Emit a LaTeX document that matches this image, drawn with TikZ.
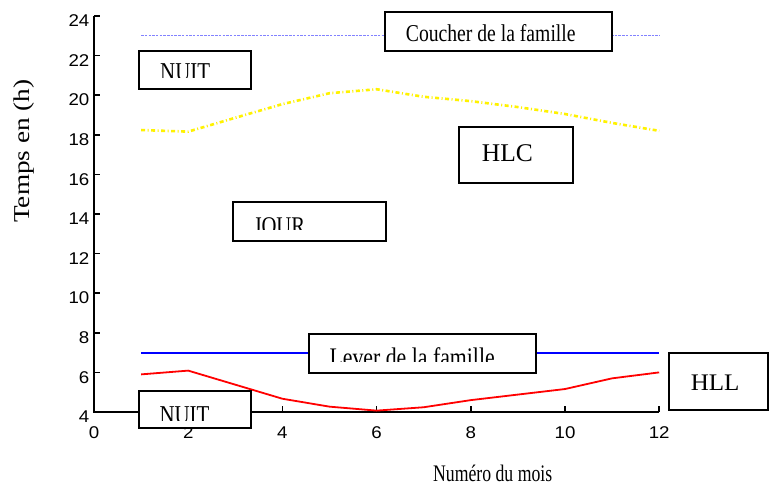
\documentclass[tikz,border=0pt]{standalone}
\usepackage{fontspec}
\setmainfont{Liberation Serif}
\newfontfamily\ticksf{Liberation Sans}
\usepackage{graphicx}

\newcommand\mytxt[3]{\scalebox{1}[#2]{\fontsize{#1}{#1}\selectfont #3}}
\newcommand\mytick[1]{\scalebox{1.1}[1]{\fontsize{17}{17}\ticksf #1}}
\definecolor{lightblueline}{RGB}{130,130,255}

\begin{document}
\begin{tikzpicture}[x=1pt,y=-1pt,
  box/.style={draw=black, line width=1.8pt, fill=white, inner sep=0pt, outer sep=0pt, anchor=north west},
  lbl/.style={inner sep=0pt, anchor=base west},
  axisline/.style={line width=1.6pt, black},
  ticklbl/.style={inner sep=0pt},
  hll/.style={red, line width=1.8pt},
  hlc/.style={yellow, line width=2.6pt, dash pattern=on 4pt off 2.5pt on 1pt off 2.5pt},
  coucher/.style={lightblueline, line width=1.3pt, dash pattern=on 2.5pt off 1.2pt},
  lever/.style={blue, line width=1.8pt}]

\clip (0,0) rectangle (769,487);
\fill[white] (0,0) rectangle (769,487);

% axes
\coordinate (o) at (94,412);
\coordinate (ytop) at (94,15.7);
\coordinate (xend) at (659.2,412);
\draw[axisline] (ytop) -- (o) -- (xend);

\foreach \v in {4,6,...,24} {
  \pgfmathsetmacro\yy{412-19.8*(\v-4)}
  \draw[axisline] (94,\yy) -- (100,\yy);
  \node[ticklbl, anchor=east] (yl\v) at (89.5,\yy+4.8) {\mytick{\v}};
}
\foreach \m in {0,2,...,12} {
  \pgfmathsetmacro\xx{94+47.1*\m}
  \draw[axisline] (\xx,412) -- (\xx,406);
  \node[ticklbl] (xl\m) at (\xx,432.5) {\mytick{\m}};
}

% data
\begin{scope}[shift={(94,412)}, x=47.1pt, y=19.8pt]
  \coordinate (c1) at (1,19); \coordinate (c12) at (12,19);
  \coordinate (l1) at (1,3); \coordinate (l12) at (12,3);
  \draw[coucher] (c1) -- (c12);
  \draw[lever] (l1) -- (l12);
  \draw[hlc] plot coordinates {(1,14.24) (2,14.16) (3,14.86) (4,15.55) (5,16.1) (6,16.3) (7,15.92) (8,15.7) (9,15.4) (10,15.05) (11,14.6) (12,14.2)};
  \draw[hll, line join=round] plot coordinates {(1,1.90) (2,2.09) (3,1.38) (4,0.67) (5,0.27) (6,0.07) (7,0.24) (8,0.60) (9,0.88) (10,1.16) (11,1.70) (12,2.0)};
\end{scope}

% boxes and texts
\node[box, minimum width=226.7pt, minimum height=38.7pt] (bcoucher) at (385,12.3) {};
\node[lbl] (tcoucher) at (405.7,41.7) {\mytxt{19.65}{1.23}{Coucher de la famille}};

\node[box, minimum width=112pt, minimum height=38pt] (bnuit1) at (139,50.7) {};
\begin{scope}
  \clip (150,50) rectangle (240,77.3);
  \node[lbl] (tnuit1) at (160,80.3) {\mytxt{20.9}{1.23}{NUIT}};
\end{scope}

\node[box, minimum width=114pt, minimum height=56pt] (bhlc) at (459,126.7) {};
\node[lbl] (thlc) at (481.7,161.7) {\mytxt{25.5}{1}{HLC}};

\node[box, minimum width=153pt, minimum height=38.4pt] (bjour) at (232.7,202.3) {};
\begin{scope}
  \clip (245,205) rectangle (330,229.3);
  \node[lbl] (tjour) at (253.3,234.2) {\mytxt{20.7}{1.23}{JOUR}};
\end{scope}

\node[box, minimum width=226.4pt, minimum height=38.4pt] (blever) at (309.3,334.3) {};
\begin{scope}
  \clip (320,337) rectangle (530,361.7);
  \node[lbl] (tlever) at (329.3,366) {\mytxt{21.8}{1.23}{Lever de la famille}};
\end{scope}

\node[box, minimum width=111.7pt, minimum height=37.6pt] (bnuit2) at (139.3,390.7) {};
\begin{scope}
  \clip (150,393) rectangle (240,420);
  \node[lbl] (tnuit2) at (159.3,423) {\mytxt{20.9}{1.23}{NUIT}};
\end{scope}

\node[box, minimum width=99.3pt, minimum height=57.3pt] (bhll) at (668.7,352.7) {};
\node[lbl] (thll) at (690.7,390) {\mytxt{25}{0.95}{HLL}};

% axis labels
\node[lbl] (xlabel) at (433,481.7) {\mytxt{17.7}{1.34}{Numéro du mois}};
\node[lbl, rotate=90] (ylabel) at (30,223) {\scalebox{1.2}[1]{\fontsize{22.7}{22.7}\selectfont Temps en (h)}};
\end{tikzpicture}
\end{document}
